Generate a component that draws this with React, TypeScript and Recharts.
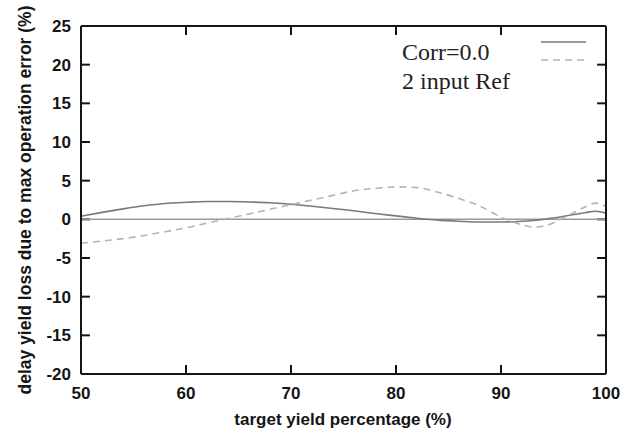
import React from 'react';
import { LineChart, Line, XAxis, YAxis, ReferenceLine } from 'recharts';

// target yield percentage (%)
const yieldPct = [50, 52, 54, 56, 58, 60, 62, 64, 66, 68, 70, 72, 74, 76, 78, 80, 82, 84, 86, 88, 90, 92, 93, 94, 96, 98, 99, 100];
// Corr=0.0 (solid)
const corrZero = [0.4, 0.9, 1.35, 1.75, 2.05, 2.2, 2.3, 2.3, 2.25, 2.15, 1.95, 1.7, 1.4, 1.1, 0.75, 0.45, 0.15, -0.1, -0.25, -0.35, -0.35, -0.25, -0.15, 0.0, 0.4, 0.85, 1.05, 0.8];
// 2 input Ref (dashed)
const twoInputRef = [-3.1, -2.8, -2.5, -2.1, -1.6, -1.1, -0.5, 0.1, 0.7, 1.3, 1.9, 2.5, 3.1, 3.7, 4.0, 4.2, 4.1, 3.5, 2.7, 1.7, 0.3, -0.7, -1.0, -0.9, 0.2, 1.6, 2.1, 1.7];

const xTicks = [50, 60, 70, 80, 90, 100];
const yTicks = [-20, -15, -10, -5, 0, 5, 10, 15, 20, 25];

const data = yieldPct.map((x, i) => ({ x, corr: corrZero[i], ref: twoInputRef[i] }));

const W = 634;
const H = 432;
const sans = '"Liberation Sans", Arial, sans-serif';
const serif = '"Liberation Serif", "Times New Roman", serif';
const axisColor = '#151515';

// inward tick length expressed in data units (about 9px each way)
const X_MIN = 50;
const X_MAX = 100;
const Y_MIN = -20;
const Y_MAX = 25;
const tickLenY = 1.15;
const tickLenX = 0.85;

const BottomTick = (props: any) => {
  const { x, y, payload } = props;
  return (
    <text x={x} y={y + 25} textAnchor="middle" fontFamily={sans} fontWeight="bold" fontSize={17} fill={axisColor}>
      {payload.value}
    </text>
  );
};

const LeftTick = (props: any) => {
  const { x, y, payload } = props;
  return (
    <text x={x - 10} y={y + 6} textAnchor="end" fontFamily={sans} fontWeight="bold" fontSize={17} fill={axisColor}>
      {payload.value}
    </text>
  );
};

const NoTick = () => <g />;

const axisLine = { stroke: axisColor, strokeWidth: 2 };

export default function App() {
  return (
    <div style={{ position: 'absolute', left: 0, top: 0, width: W, height: H }}>
      <LineChart width={W} height={H} data={data} margin={{ top: 25, right: 27, bottom: 57, left: 80 }}>
        <XAxis dataKey="x" type="number" domain={[X_MIN, X_MAX]} ticks={xTicks} interval={0} height={1} tickSize={0} tickMargin={0} tickLine={false} axisLine={axisLine} tick={<BottomTick />} />
        <XAxis xAxisId="t" orientation="top" dataKey="x" type="number" domain={[X_MIN, X_MAX]} ticks={xTicks} interval={0} height={1} tickSize={0} tickMargin={0} tickLine={false} axisLine={axisLine} tick={<NoTick />} />
        <YAxis type="number" domain={[Y_MIN, Y_MAX]} ticks={yTicks} interval={0} width={1} tickSize={0} tickMargin={0} tickLine={false} axisLine={axisLine} tick={<LeftTick />} />
        <YAxis yAxisId="r" orientation="right" type="number" domain={[Y_MIN, Y_MAX]} ticks={yTicks} interval={0} width={1} tickSize={0} tickMargin={0} tickLine={false} axisLine={axisLine} tick={<NoTick />} />
        {/* gnuplot-style inward ticks on all four borders */}
        {xTicks.map((t) => (
          <ReferenceLine key={'b' + t} segment={[{ x: t, y: Y_MIN }, { x: t, y: Y_MIN + tickLenY }]} stroke={axisColor} strokeWidth={2} />
        ))}
        {xTicks.map((t) => (
          <ReferenceLine key={'t' + t} segment={[{ x: t, y: Y_MAX }, { x: t, y: Y_MAX - tickLenY }]} stroke={axisColor} strokeWidth={2} />
        ))}
        {yTicks.map((t) => (
          <ReferenceLine key={'l' + t} segment={[{ x: X_MIN, y: t }, { x: X_MIN + tickLenX, y: t }]} stroke={axisColor} strokeWidth={2} />
        ))}
        {yTicks.map((t) => (
          <ReferenceLine key={'r' + t} segment={[{ x: X_MAX, y: t }, { x: X_MAX - tickLenX, y: t }]} stroke={axisColor} strokeWidth={2} />
        ))}
        <ReferenceLine y={0} stroke="#9a9a9a" strokeWidth={1.5} />
        <Line dataKey="corr" type="monotone" stroke="#7a7a7a" strokeWidth={1.6} dot={false} isAnimationActive={false} />
        <Line dataKey="ref" type="monotone" stroke="#b4b4b4" strokeWidth={1.6} strokeDasharray="7 5" dot={false} isAnimationActive={false} />
      </LineChart>
      <svg width={W} height={H} style={{ position: 'absolute', left: 0, top: 0, pointerEvents: 'none' }}>
        <text x={402} y={60} fontFamily={serif} fontSize={24} fill="#222">Corr=0.0</text>
        <text x={402} y={89} fontFamily={serif} fontSize={24} fill="#222">2 input Ref</text>
        <line x1={541} x2={586} y1={42} y2={42} stroke="#7a7a7a" strokeWidth={1.6} />
        <line x1={541} x2={586} y1={60} y2={60} stroke="#b4b4b4" strokeWidth={1.6} strokeDasharray="7 5" />
        <text x={343} y={425} textAnchor="middle" fontFamily={sans} fontWeight="bold" fontSize={17} fill={axisColor}>
          target yield percentage (%)
        </text>
        <text x={0} y={0} transform="translate(31,200) rotate(-90)" textAnchor="middle" fontFamily={sans} fontWeight="bold" fontSize={17.5} fill={axisColor}>
          delay yield loss due to max operation error (%)
        </text>
      </svg>
    </div>
  );
}
